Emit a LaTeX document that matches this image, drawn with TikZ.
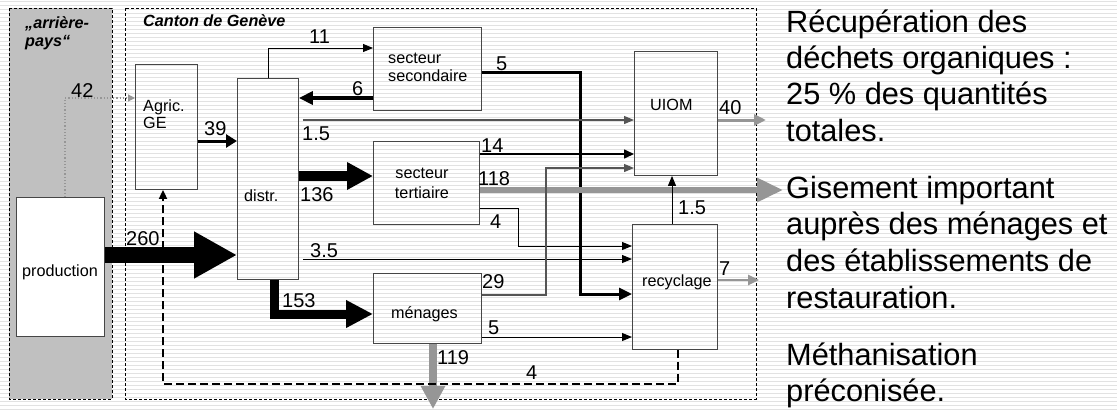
\documentclass[tikz,border=0pt]{standalone}
\usepackage{fontspec}
\setmainfont{Liberation Sans}
\usetikzlibrary{arrows.meta,calc}
\definecolor{stripec}{RGB}{226,226,226}
\definecolor{boxc}{RGB}{70,70,70}
\definecolor{greyarr}{RGB}{150,150,150}
\definecolor{hinter}{RGB}{192,192,192}
\definecolor{thinc}{RGB}{85,85,85}
\begin{document}
\begin{tikzpicture}[x=1pt,y=-1pt,
  stripe/.style={draw=stripec,line width=1.3pt},
  zone/.style={draw=black,line width=0.8pt,dash pattern=on 3pt off 2pt},
  box/.style={draw=boxc,line width=0.9pt,inner sep=0pt,anchor=north west},
  num/.style={font=\fontsize{20}{20}\selectfont,inner sep=0pt,anchor=base west},
  btxt/.style={font=\fontsize{16.2}{16.2}\selectfont,inner sep=0pt,anchor=base west},
  ztxt/.style={font=\fontsize{16.2}{16.2}\selectfont\bfseries\itshape,inner sep=0pt,anchor=base west},
  rtxt/.style={font=\fontsize{30.75}{30.75}\selectfont,inner sep=0pt,anchor=base west},
  thinarr/.style={draw=black,line width=1pt,-{Triangle[length=10pt,width=8pt]}},
  greyline/.style={draw=thinc,line width=1.2pt,-{Triangle[length=10pt,width=8pt]}}
]
\useasboundingbox (0,0) rectangle (1117,410);
\foreach \i in {0,...,102} \draw[stripe] (0,{4*\i+1.5}) -- (1117,{4*\i+1.5});

% zones
\draw[zone,fill=hinter] (9,8) rectangle (112,399);
\draw[zone] (125,8) rectangle (756,399);
\node[ztxt] (ap1) at (25,28) {„arrière-};
\node[ztxt] (ap2) at (25,46) {pays“};
\node[ztxt] (cg) at (143,26) {Canton de Genève};

% boxes
\node[box,fill=white,minimum width=88pt,minimum height=139pt] (prod) at (16,197) {};
\node[box,minimum width=62pt,minimum height=125pt] (agric) at (135,64) {};
\node[box,minimum width=61pt,minimum height=201pt] (distr) at (237,78) {};
\node[box,minimum width=108pt,minimum height=83pt] (sec) at (373,27) {};
\node[box,minimum width=106pt,minimum height=83pt] (ter) at (373,141) {};
\node[box,minimum width=108pt,minimum height=70pt] (men) at (373,273) {};
\node[box,minimum width=83pt,minimum height=124pt] (uiom) at (634,51) {};
\node[box,minimum width=85pt,minimum height=125pt] (recyc) at (632,224) {};

% box texts
\node[btxt,anchor=base] (tprod) at (60,276) {production};
\node[btxt] (tag1) at (143,111) {Agric.};
\node[btxt] (tag2) at (143,128) {GE};
\node[btxt] (tdis) at (244,201) {distr.};
\node[btxt] (tsec1) at (388,63) {secteur};
\node[btxt] (tsec2) at (388,81.5) {secondaire};
\node[btxt,anchor=base] (tter1) at (422,178) {secteur};
\node[btxt,anchor=base] (tter2) at (422,198) {tertiaire};
\node[btxt] (tmen) at (391,318) {ménages};
\node[btxt] (tuiom) at (650,110) {UIOM};
\node[btxt] (trec) at (642,286) {recyclage};

% connectors
\draw[draw=greyarr,line width=1.2pt,dotted,-{Triangle[length=7pt,width=7pt]}]
  (prod.north -| 65,0) |- (agric.west |- 0,98);
\draw[line width=3pt,-{Triangle[length=11pt,width=13pt]}]
  (agric.east |- 0,141) -- (distr.west |- 0,141);
\draw[line width=16pt,-{Triangle[length=43pt,width=44pt]}]
  (prod.east |- 0,255) -- (distr.west |- 0,255);
\draw[thinarr] (distr.north -| 268,0) |- (sec.west |- 0,48);
\draw[line width=3.5pt,-{Triangle[length=14pt,width=13pt]}]
  (sec.west |- 0,98) -- (distr.east |- 0,98);
\draw[line width=3pt,-{Triangle[length=13pt,width=12pt]}]
  (sec.east |- 0,72) -| (580,294) -- (recyc.west |- 0,294);
\draw[greyline] ($(distr.east |- 0,120)+(4,0)$) -- (uiom.west |- 0,120);
\draw[line width=10pt,-{Triangle[length=26pt,width=26pt]}]
  (distr.east |- 0,176) -- (ter.west |- 0,176);
\draw[line width=1.6pt,-{Triangle[length=10pt,width=9pt]}]
  (ter.east |- 0,154) -- (uiom.west |- 0,154);
\coordinate (gis) at (783,190);
\draw[draw=greyarr,line width=6pt,-{Triangle[length=26pt,width=23pt]}]
  (ter.east |- 0,190) -- (gis);
\draw[thinarr] (ter.east |- 0,208) -| (518,246) -- (recyc.west |- 0,246);
\draw[thinarr] ($(distr.east |- 0,259)+(4,0)$) -- (recyc.west |- 0,259);
\draw[line width=9pt,-{Triangle[length=27pt,width=26pt]}]
  (distr.south -| 274,0) |- (men.west |- 0,314);
\draw[greyline] (men.east |- 0,295) -| (546,168) -- (uiom.west |- 0,168);
\draw[thinarr] (men.east |- 0,337) -- (recyc.west |- 0,337);
\coordinate (down) at (433,409);
\draw[draw=greyarr,line width=8pt,-{Triangle[length=23pt,width=23pt]}]
  (men.south -| 433,0) -- (down);
\draw[thinarr] (recyc.north -| 672,0) -- (uiom.south -| 672,0);
\coordinate (out40) at (766,120);
\draw[draw=greyarr,line width=3pt,-{Triangle[length=12pt,width=11pt]}]
  (uiom.east |- 0,120) -- (out40);
\coordinate (out7) at (759,280);
\draw[draw=greyarr,line width=2.5pt,-{Triangle[length=11pt,width=10pt]}]
  (recyc.east |- 0,280) -- (out7);
\draw[line width=1.8pt,dash pattern=on 8pt off 4pt,-{Triangle[length=9pt,width=8pt]}]
  (recyc.south -| 678,0) |- (163,384) -- (agric.south -| 163,0);

% numbers
\node[num] (n42) at (71,97) {42};
\node[num] (n39) at (204,135) {39};
\node[num] (n260) at (126,245) {260};
\node[num] (n11) at (309,43) {11};
\node[num] (n6) at (352,95) {6};
\node[num] (n5a) at (496,70) {5};
\node[num] (n15a) at (302,140) {1.5};
\node[num] (n136) at (300,201) {136};
\node[num] (n14) at (481,152) {14};
\node[num] (n118) at (478,185) {118};
\node[num] (n4a) at (490,228) {4};
\node[num] (n35) at (310,257) {3.5};
\node[num] (n153) at (282,307) {153};
\node[num] (n29) at (482,288) {29};
\node[num] (n5b) at (488,334) {5};
\node[num] (n119) at (437,364) {119};
\node[num] (n15b) at (678,214) {1.5};
\node[num] (n40) at (719,114) {40};
\node[num] (n7) at (719,275) {7};
\node[num] (n4b) at (526,379) {4};

% right text
\node[rtxt] (r1) at (786,32) {Récupération des};
\node[rtxt] (r2) at (786,68) {déchets organiques :};
\node[rtxt] (r3) at (786,104) {25 \% des quantités};
\node[rtxt] (r4) at (786,141) {totales.};
\node[rtxt] (r5) at (786,198) {Gisement important};
\node[rtxt] (r6) at (786,234) {auprès des ménages et};
\node[rtxt] (r7) at (786,271) {des établissements de};
\node[rtxt] (r8) at (786,308) {restauration.};
\node[rtxt] (r9) at (786,365) {Méthanisation};
\node[rtxt] (r10) at (786,401) {préconisée.};
\end{tikzpicture}
\end{document}
